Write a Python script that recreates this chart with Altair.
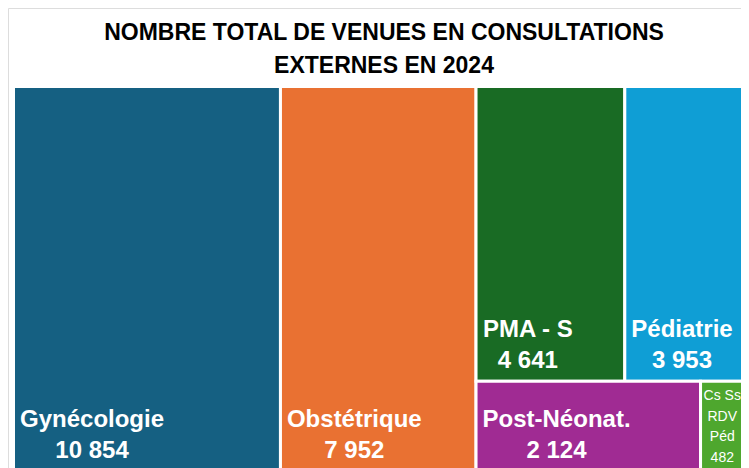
import altair as alt
import pandas as pd

# ---- data ----
categories = ["Gynécologie", "Obstétrique", "PMA - S", "Pédiatrie", "Post-Néonat.", "Cs Ss RDV Péd"]
values = [10854, 7952, 4641, 3953, 2124, 482]
colors = ["#156082", "#E97132", "#196B24", "#0F9ED5", "#A02B93", "#4EA72E"]
title_lines = ["NOMBRE TOTAL DE VENUES EN CONSULTATIONS", "EXTERNES EN 2024"]

# treemap nesting (h = side by side, v = stacked), indices into the lists above
tree = ("h", [0, 1, ("v", [("h", [2, 3]), ("h", [4, 5])])])

FONT = "Liberation Sans"
VIEW_W, VIEW_H = 735, 470
VISIBLE_W = 733          # drawing width that fits the page (svg is cut here)
XR = [5.5, 743.5]        # pixel range of the treemap inside the view
YR = [78.5, 462.5]


def total(node):
    if isinstance(node, int):
        return values[node]
    return sum(total(k) for k in node[1])


def place(node, x0, y0, x1, y1, out):
    if isinstance(node, int):
        out[node] = (x0, y0, x1, y1)
        return
    d, kids = node
    s = total(node)
    pos = x0 if d == "h" else y0
    for k in kids:
        f = total(k) / s
        if d == "h":
            w = (x1 - x0) * f
            place(k, pos, y0, pos + w, y1, out)
            pos += w
        else:
            h = (y1 - y0) * f
            place(k, x0, pos, x1, pos + h, out)
            pos += h


rects = {}
place(tree, 0.0, 0.0, 1.0, 1.0, rects)

# approximate Arial/Liberation bold advance widths (em) to centre the value under the name
BOLD = {" ": .278, "-": .333, ".": .278, "A": .722, "G": .778, "M": .833, "N": .722, "O": .778,
        "P": .667, "S": .667, "a": .556, "b": .611, "c": .556, "d": .611, "e": .556, "é": .556,
        "g": .611, "i": .278, "l": .278, "n": .611, "o": .611, "q": .611, "r": .389, "s": .556,
        "t": .333, "u": .611, "y": .556}
NAME_SIZE = 24
SMALL_SIZE = 14
SMALL_LH = 20.5


def text_w(s):
    return sum(BOLD.get(c, .556) for c in s) * NAME_SIZE


def fmt(v):
    return f"{v:,}".replace(",", " ")


pxw = XR[1] - XR[0]
clip_edge = (VISIBLE_W - XR[0]) / pxw   # data position of the visible right edge
rows = []
for i, name in enumerate(categories):
    x0, y0, x1, y1 = rects[i]
    small = (x1 - x0) * pxw < 80
    lines = []
    if small:
        cur = ""
        for w_ in name.split(" "):
            cand = (cur + " " + w_).strip()
            if len(cand) <= 5:
                cur = cand
            else:
                lines.append(cur)
                cur = w_
        lines.append(cur)
        lines.append(fmt(values[i]))
    rows.append({
        "name": name, "value": values[i], "label": fmt(values[i]), "color": colors[i],
        "x0": x0, "x1": x1, "y0": y0, "y1": y1,
        "cx": x0 + (6.5 + text_w(name) / 2) / pxw,
        "mx": (x0 + min(x1, clip_edge)) / 2, "my": (y0 + y1) / 2,
        "small": small, "lines": lines, "nlines": len(lines),
    })

df = pd.DataFrame(rows)

xs = alt.Scale(domain=[0, 1], range=XR, nice=False, zero=False)
ys = alt.Scale(domain=[0, 1], range=YR, nice=False, zero=False)

base = alt.Chart(df)

tiles = base.mark_rect(stroke="white", strokeWidth=3).encode(
    x=alt.X("x0:Q", scale=xs, axis=None),
    x2="x1:Q",
    y=alt.Y("y0:Q", scale=ys, axis=None),
    y2="y1:Q",
    fill=alt.Fill("color:N", scale=None),
    tooltip=["name:N", "value:Q"],
)

big = base.transform_filter("!datum.small")

names = big.mark_text(font=FONT, fontSize=NAME_SIZE, fontWeight="bold", color="white",
                      align="center", baseline="alphabetic", dy=-44).encode(
    x=alt.X("cx:Q", scale=xs), y=alt.Y("y1:Q", scale=ys), text="name:N")

nums = big.mark_text(font=FONT, fontSize=NAME_SIZE, fontWeight="bold", color="white",
                     align="center", baseline="alphabetic", dy=-13).encode(
    x=alt.X("cx:Q", scale=xs), y=alt.Y("y1:Q", scale=ys), text="label:N")

n_small = int(df.loc[df["small"], "nlines"].max()) if df["small"].any() else 1
smalls = base.transform_filter("datum.small").mark_text(
    font=FONT, fontSize=SMALL_SIZE, color="white", align="center", baseline="middle",
    lineHeight=SMALL_LH, dx=1.5, dy=-(n_small - 1) * SMALL_LH / 2 + 1).encode(
    x=alt.X("mx:Q", scale=xs), y=alt.Y("my:Q", scale=ys), text="lines")

chart = alt.layer(tiles, names, nums, smalls).properties(
    width=VIEW_W, height=VIEW_H,
    padding={"left": 0, "top": 0, "right": VISIBLE_W - VIEW_W, "bottom": 0},
    autosize=alt.AutoSizeParams(type="none"),
    title=alt.TitleParams(text=title_lines, orient="top", anchor="middle", frame="group",
                          baseline="alphabetic", offset=-32, dy=56, dx=8.5, lineHeight=33.5,
                          font=FONT, fontSize=23, fontWeight="bold", color="black"),
).configure_view(stroke="#d9d9d9", strokeWidth=1).configure(background="white")

chart.save("out.html", embed_options={"renderer": "svg", "actions": False})
